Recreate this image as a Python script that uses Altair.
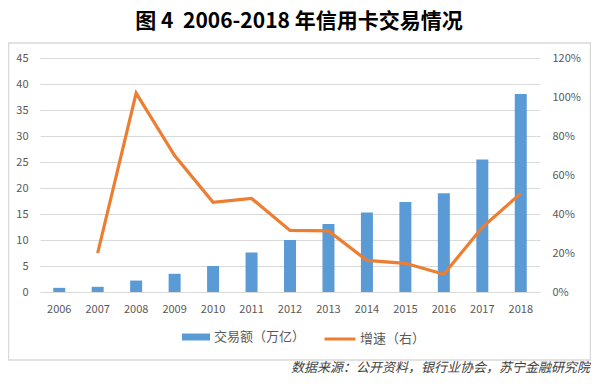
import altair as alt
import pandas as pd

years = ["2006", "2007", "2008", "2009", "2010", "2011", "2012",
         "2013", "2014", "2015", "2016", "2017", "2018"]
amount = [0.8, 1.0, 2.2, 3.5, 5.0, 7.6, 10.0, 13.1, 15.3, 17.3, 19.0, 25.5, 38.1]
growth = [None, 0.20, 1.02, 0.70, 0.46, 0.48, 0.316, 0.313, 0.162, 0.147, 0.091, 0.332, 0.506]

bar_name = "交易额（万亿）"
line_name = "增速（右）"
title_text = "图 4\u00a0\u00a02006-2018 年信用卡交易情况"
source_text = "数据来源：公开资料，银行业协会，苏宁金融研究院"

FONT = "Noto Sans CJK SC"
GRAY = "#595959"
GRID = "#d9d9d9"

df = pd.DataFrame({"year": years, "amount": amount, "growth": growth})
df["s1"] = bar_name
df["s2"] = line_name

xenc = alt.X("year:N", sort=years, title=None,
             scale=alt.Scale(paddingInner=0, paddingOuter=0),
             axis=alt.Axis(labelAngle=0, ticks=False, domain=True, domainColor=GRID,
                           labelPadding=11, labelFontSize=11, labelColor=GRAY,
                           labelFont=FONT, grid=False))

base = alt.Chart(df)

bars = base.mark_bar(size=12).encode(
    x=xenc,
    y=alt.Y("amount:Q", title=None,
            scale=alt.Scale(domain=[0, 45], nice=False),
            axis=alt.Axis(values=list(range(0, 46, 5)), ticks=False, domain=False,
                          grid=True, gridColor=GRID, labelPadding=12,
                          labelFontSize=11, labelColor=GRAY, labelFont=FONT)),
    color=alt.Color("s1:N", scale=alt.Scale(domain=[bar_name], range=["#5B9BD5"]),
                    legend=alt.Legend(title=None, orient="none", legendX=141, legendY=264,
                                      symbolType="M-1,-0.25H1V0.25H-1Z", symbolSize=784,
                                      labelFontSize=13, labelColor=GRAY, labelFont=FONT,
                                      labelOffset=3, padding=0)),
)

line = base.mark_line(strokeWidth=3.2).encode(
    x=xenc,
    y=alt.Y("growth:Q", title=None,
            scale=alt.Scale(domain=[0, 1.2], nice=False),
            axis=alt.Axis(orient="right", values=[0, 0.2, 0.4, 0.6, 0.8, 1.0, 1.2],
                          format=".0%", ticks=False, domain=False, grid=False,
                          labelPadding=12, labelFontSize=11, labelColor=GRAY,
                          labelFont=FONT)),
    color=alt.Color("s2:N", scale=alt.Scale(domain=[line_name], range=["#ED7D31"]),
                    legend=alt.Legend(title=None, orient="none", legendX=283, legendY=264,
                                      symbolType="stroke", symbolSize=961,
                                      symbolStrokeWidth=3,
                                      labelFontSize=13, labelColor=GRAY, labelFont=FONT,
                                      labelOffset=3, padding=0)),
)

border = alt.Chart(pd.DataFrame({"k": [0]})).mark_rect(
    fill=None, stroke=GRID, strokeWidth=1.5
).encode(
    x=alt.value(-31.5), x2=alt.value(550.5), y=alt.value(-15), y2=alt.value(302)
)

source = alt.Chart(pd.DataFrame({"t": [source_text]})).mark_text(
    align="right", baseline="middle", font=FONT, fontSize=13,
    fontStyle="italic", color="#404040"
).encode(text="t:N", x=alt.value(550), y=alt.value(310))

chart = alt.layer(border, bars, line, source).resolve_scale(
    y="independent", color="independent"
).properties(
    width=500, height=234,
    autosize=alt.AutoSizeParams(type="none"),
    padding={"left": 32, "top": 50, "right": 51, "bottom": 84},
    title=alt.TitleParams(text=title_text, anchor="middle", dx=9, offset=10,
                          font=FONT, fontSize=21, fontWeight="bold", color="#000000"),
).configure_view(stroke=None)

chart.save("out.html", embed_options={"renderer": "svg", "actions": False})
